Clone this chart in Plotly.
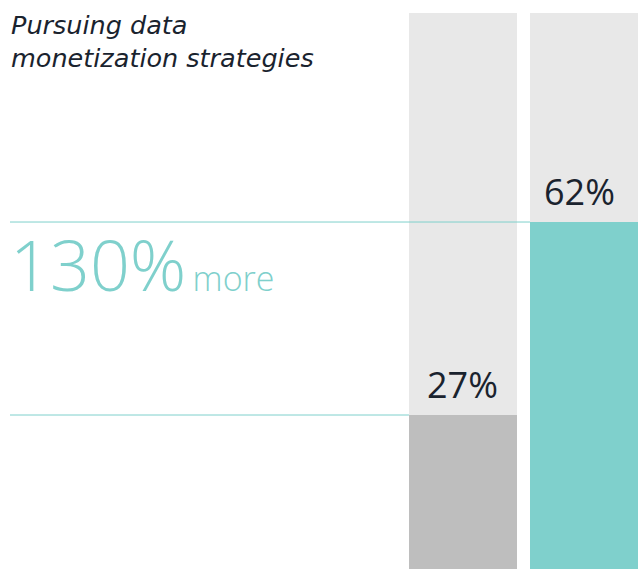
import plotly.graph_objects as go

# ---- data ----
categories = ["Other organizations", "Leaders"]
values = [27, 62]
background = [100, 100]
value_labels = ["27%", "62%"]
title_lines = ["Pursuing data", "monetization strategies"]
highlight_big = "130%"
highlight_small = "more"

# ---- styles ----
W, H = 639, 569
bar_colors = ["#bebebe", "#7fd0cc"]
bg_color = "#e8e8e8"
teal = "#7fd0cc"
ink = "#1a232e"
font_family = "Open Sans"
title_family = "DejaVu Sans"
label_xshift = [0, -5]

x_pos = list(range(len(categories)))
bar_w = 0.893
x_range = [-3.826, 1.4545]
y_range = [-0.93, 102.27]

fig = go.Figure()
fig.add_trace(go.Bar(
    x=x_pos, y=[b - y_range[0] for b in background], base=y_range[0],
    width=bar_w, marker=dict(color=bg_color, line=dict(width=0)),
    hoverinfo="skip", showlegend=False,
))
fig.add_trace(go.Bar(
    x=x_pos, y=[v - y_range[0] for v in values], base=y_range[0],
    width=bar_w, marker=dict(color=bar_colors, line=dict(width=0)),
    customdata=categories, hovertemplate="%{customdata}: %{text}<extra></extra>",
    text=value_labels, textposition="none", showlegend=False,
))

def to_paper(xv):
    return (xv - x_range[0]) / (x_range[1] - x_range[0])

shapes = []
for i, v in enumerate(values):
    shapes.append(dict(
        type="line", xref="paper", yref="y",
        x0=10 / W, x1=to_paper(x_pos[i] - bar_w / 2), y0=v, y1=v,
        line=dict(color=teal, width=1), layer="above",
    ))

annotations = []
for i, (v, lab) in enumerate(zip(values, value_labels)):
    annotations.append(dict(
        x=x_pos[i], y=v, xref="x", yref="y", text=lab, showarrow=False,
        xanchor="center", yanchor="bottom", yshift=4, xshift=label_xshift[i],
        font=dict(family=font_family, size=36, color=ink),
    ))

annotations.append(dict(
    x=9 / W, y=1 - 8 / H, xref="paper", yref="paper",
    text="<br>".join(title_lines), showarrow=False, align="left",
    xanchor="left", yanchor="top",
    font=dict(family=title_family, size=25.5, color=ink, style="italic"),
))
annotations.append(dict(
    x=8 / W, y=1 - 214 / H, xref="paper", yref="paper",
    text=f"<span style='font-size:70px'>{highlight_big}</span>"
         f"<span style='font-size:24px'> </span>"
         f"<span style='font-size:34px'>{highlight_small}</span>",
    showarrow=False, xanchor="left", yanchor="top",
    font=dict(family=font_family, size=70, color=teal, weight=300),
))

fig.update_layout(
    width=W, height=H, margin=dict(l=0, r=0, t=0, b=0),
    paper_bgcolor="white", plot_bgcolor="white",
    barmode="overlay", bargap=0,
    xaxis=dict(range=x_range, visible=False, fixedrange=True),
    yaxis=dict(range=y_range, visible=False, fixedrange=True),
    shapes=shapes, annotations=annotations,
)

fig.write_html("out.html", config={"displayModeBar": False},
               post_script="document.body.style.margin='0';")
